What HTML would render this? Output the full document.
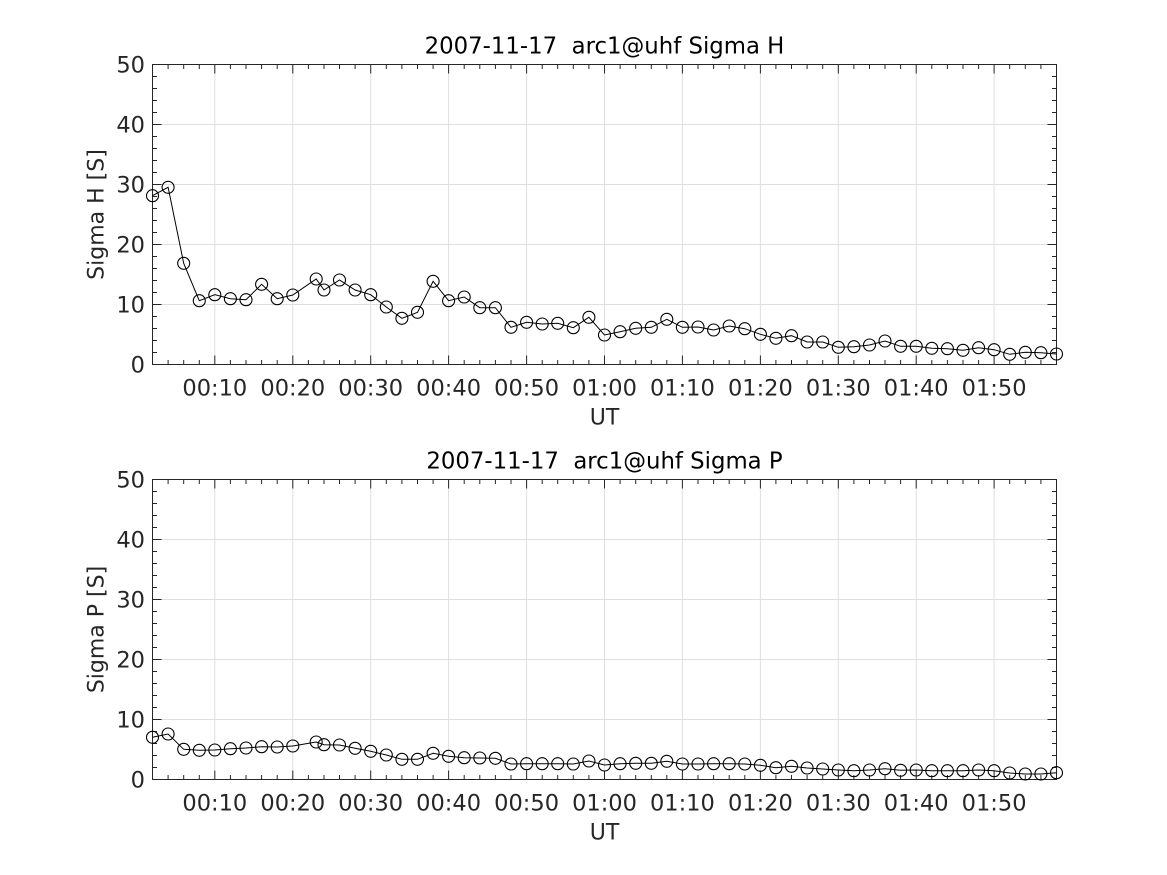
<!DOCTYPE html>
<html>
<head>
<meta charset="utf-8">
<style>
html,body{margin:0;padding:0;background:#fff;}
svg{display:block;}
text{font-family:"DejaVu Sans","Liberation Sans",sans-serif;}
</style>
</head>
<body>
<svg width="1167" height="875" viewBox="0 0 1167 875" xmlns="http://www.w3.org/2000/svg">
<defs>
<marker id="m" markerUnits="userSpaceOnUse" markerWidth="16" markerHeight="16" refX="8" refY="8" viewBox="0 0 16 16">
<circle cx="8" cy="8" r="6" fill="none" stroke="#000" stroke-width="1.1"/>
</marker>
</defs>
<rect width="1167" height="875" fill="#fff"/>

<!-- ============ AXES 1 ============ -->
<g id="ax1">
<path fill="none" stroke="#dfdfdf" stroke-width="1" d="M214.8 64.5V364.5M292.8 64.5V364.5M370.7 64.5V364.5M448.6 64.5V364.5M526.6 64.5V364.5M604.5 64.5V364.5M682.4 64.5V364.5M760.4 64.5V364.5M838.3 64.5V364.5M916.2 64.5V364.5M994.1 64.5V364.5M152.5 124.5H1056.5M152.5 184.5H1056.5M152.5 244.5H1056.5M152.5 304.5H1056.5"/>
<path fill="none" stroke="#262626" stroke-width="1" d="
M168.1 364.5V360M168.1 64.5V69M183.7 364.5V360M183.7 64.5V69M199.3 364.5V360M199.3 64.5V69
M230.4 364.5V360M230.4 64.5V69M246 364.5V360M246 64.5V69M261.6 364.5V360M261.6 64.5V69M277.2 364.5V360M277.2 64.5V69
M308.4 364.5V360M308.4 64.5V69M324 364.5V360M324 64.5V69M339.5 364.5V360M339.5 64.5V69M355.1 364.5V360M355.1 64.5V69
M386.3 364.5V360M386.3 64.5V69M401.9 364.5V360M401.9 64.5V69M417.5 364.5V360M417.5 64.5V69M433.1 364.5V360M433.1 64.5V69
M464.2 364.5V360M464.2 64.5V69M479.8 364.5V360M479.8 64.5V69M495.4 364.5V360M495.4 64.5V69M511 364.5V360M511 64.5V69
M542.2 364.5V360M542.2 64.5V69M557.7 364.5V360M557.7 64.5V69M573.3 364.5V360M573.3 64.5V69M588.9 364.5V360M588.9 64.5V69
M620.1 364.5V360M620.1 64.5V69M635.7 364.5V360M635.7 64.5V69M651.3 364.5V360M651.3 64.5V69M666.8 364.5V360M666.8 64.5V69
M698 364.5V360M698 64.5V69M713.6 364.5V360M713.6 64.5V69M729.2 364.5V360M729.2 64.5V69M744.8 364.5V360M744.8 64.5V69
M775.9 364.5V360M775.9 64.5V69M791.5 364.5V360M791.5 64.5V69M807.1 364.5V360M807.1 64.5V69M822.7 364.5V360M822.7 64.5V69
M853.9 364.5V360M853.9 64.5V69M869.5 364.5V360M869.5 64.5V69M885 364.5V360M885 64.5V69M900.6 364.5V360M900.6 64.5V69
M931.8 364.5V360M931.8 64.5V69M947.4 364.5V360M947.4 64.5V69M963 364.5V360M963 64.5V69M978.6 364.5V360M978.6 64.5V69
M1009.7 364.5V360M1009.7 64.5V69M1025.3 364.5V360M1025.3 64.5V69M1040.9 364.5V360M1040.9 64.5V69
M214.8 364.5V355.5M214.8 64.5V73.5M292.8 364.5V355.5M292.8 64.5V73.5M370.7 364.5V355.5M370.7 64.5V73.5
M448.6 364.5V355.5M448.6 64.5V73.5M526.6 364.5V355.5M526.6 64.5V73.5M604.5 364.5V355.5M604.5 64.5V73.5
M682.4 364.5V355.5M682.4 64.5V73.5M760.4 364.5V355.5M760.4 64.5V73.5M838.3 364.5V355.5M838.3 64.5V73.5
M916.2 364.5V355.5M916.2 64.5V73.5M994.1 364.5V355.5M994.1 64.5V73.5
M152.5 352.5H157M1056.5 352.5H1052M152.5 340.5H157M1056.5 340.5H1052M152.5 328.5H157M1056.5 328.5H1052M152.5 316.5H157M1056.5 316.5H1052
M152.5 292.5H157M1056.5 292.5H1052M152.5 280.5H157M1056.5 280.5H1052M152.5 268.5H157M1056.5 268.5H1052M152.5 256.5H157M1056.5 256.5H1052
M152.5 232.5H157M1056.5 232.5H1052M152.5 220.5H157M1056.5 220.5H1052M152.5 208.5H157M1056.5 208.5H1052M152.5 196.5H157M1056.5 196.5H1052
M152.5 172.5H157M1056.5 172.5H1052M152.5 160.5H157M1056.5 160.5H1052M152.5 148.5H157M1056.5 148.5H1052M152.5 136.5H157M1056.5 136.5H1052
M152.5 112.5H157M1056.5 112.5H1052M152.5 100.5H157M1056.5 100.5H1052M152.5 88.5H157M1056.5 88.5H1052M152.5 76.5H157M1056.5 76.5H1052
M152.5 304.5H161.5M1056.5 304.5H1047.5M152.5 244.5H161.5M1056.5 244.5H1047.5M152.5 184.5H161.5M1056.5 184.5H1047.5M152.5 124.5H161.5M1056.5 124.5H1047.5
"/>
<rect x="152.5" y="64.5" width="904" height="300" fill="none" stroke="#262626" stroke-width="1"/>
<g fill="#262626" font-size="22.5" text-anchor="end">
<text x="145" y="372.5">0</text>
<text x="145" y="312.5">10</text>
<text x="145" y="252.5">20</text>
<text x="145" y="192.5">30</text>
<text x="145" y="132.5">40</text>
<text x="145" y="72.5">50</text>
</g>
<g fill="#262626" font-size="22.5" text-anchor="middle">
<text x="214.8" y="395.5">00:10</text>
<text x="292.8" y="395.5">00:20</text>
<text x="370.7" y="395.5">00:30</text>
<text x="448.6" y="395.5">00:40</text>
<text x="526.6" y="395.5">00:50</text>
<text x="604.5" y="395.5">01:00</text>
<text x="682.4" y="395.5">01:10</text>
<text x="760.4" y="395.5">01:20</text>
<text x="838.3" y="395.5">01:30</text>
<text x="916.2" y="395.5">01:40</text>
<text x="994.1" y="395.5">01:50</text>
<text x="604.5" y="424.5" font-size="22">UT</text>
</g>
</g>
<text x="604.5" y="53.5" font-size="22.8" text-anchor="middle" fill="#000">2007-11-17&#160; arc1@uhf Sigma H</text>
<text transform="translate(103.5,214.5) rotate(-90)" font-size="22" text-anchor="middle" fill="#262626">Sigma H [S]</text>

<polyline fill="none" stroke="#000" stroke-width="1" marker-start="url(#m)" marker-mid="url(#m)" marker-end="url(#m)" points="152.5,195.7 168.1,187.3 183.7,263.3 199.3,300.7 214.8,294.7 230.4,298.7 246,299.7 261.6,284.3 277.2,298.7 292.8,295 316.2,279 324,290 339.5,280 355.1,290 370.7,294.7 386.3,307 401.9,318.3 417.5,312.3 433.1,281.3 448.6,300.7 464.2,297 479.8,307.7 495.4,307.7 511,327.3 526.6,322.3 542.2,324 557.7,323.3 573.3,327.7 588.9,317.3 604.5,335 620.1,331.7 635.7,328.3 651.3,327.3 666.8,319.3 682.4,327.3 698,327 713.6,330 729.2,326 744.8,328.7 760.4,334.3 775.9,338.3 791.5,335.7 807.1,342 822.7,342 838.3,347.3 853.9,346.7 869.5,345 885,341 900.6,346.3 916.2,346.3 931.8,348.3 947.4,348.7 963,350.3 978.6,347.7 994.1,349.7 1009.7,354.3 1025.3,352.3 1040.9,352.7 1056.5,354"/>

<!-- ============ AXES 2 ============ -->
<g transform="translate(0,415)">
<path fill="none" stroke="#dfdfdf" stroke-width="1" d="M214.8 64.5V364.5M292.8 64.5V364.5M370.7 64.5V364.5M448.6 64.5V364.5M526.6 64.5V364.5M604.5 64.5V364.5M682.4 64.5V364.5M760.4 64.5V364.5M838.3 64.5V364.5M916.2 64.5V364.5M994.1 64.5V364.5M152.5 124.5H1056.5M152.5 184.5H1056.5M152.5 244.5H1056.5M152.5 304.5H1056.5"/>
<path fill="none" stroke="#262626" stroke-width="1" d="
M168.1 364.5V360M168.1 64.5V69M183.7 364.5V360M183.7 64.5V69M199.3 364.5V360M199.3 64.5V69
M230.4 364.5V360M230.4 64.5V69M246 364.5V360M246 64.5V69M261.6 364.5V360M261.6 64.5V69M277.2 364.5V360M277.2 64.5V69
M308.4 364.5V360M308.4 64.5V69M324 364.5V360M324 64.5V69M339.5 364.5V360M339.5 64.5V69M355.1 364.5V360M355.1 64.5V69
M386.3 364.5V360M386.3 64.5V69M401.9 364.5V360M401.9 64.5V69M417.5 364.5V360M417.5 64.5V69M433.1 364.5V360M433.1 64.5V69
M464.2 364.5V360M464.2 64.5V69M479.8 364.5V360M479.8 64.5V69M495.4 364.5V360M495.4 64.5V69M511 364.5V360M511 64.5V69
M542.2 364.5V360M542.2 64.5V69M557.7 364.5V360M557.7 64.5V69M573.3 364.5V360M573.3 64.5V69M588.9 364.5V360M588.9 64.5V69
M620.1 364.5V360M620.1 64.5V69M635.7 364.5V360M635.7 64.5V69M651.3 364.5V360M651.3 64.5V69M666.8 364.5V360M666.8 64.5V69
M698 364.5V360M698 64.5V69M713.6 364.5V360M713.6 64.5V69M729.2 364.5V360M729.2 64.5V69M744.8 364.5V360M744.8 64.5V69
M775.9 364.5V360M775.9 64.5V69M791.5 364.5V360M791.5 64.5V69M807.1 364.5V360M807.1 64.5V69M822.7 364.5V360M822.7 64.5V69
M853.9 364.5V360M853.9 64.5V69M869.5 364.5V360M869.5 64.5V69M885 364.5V360M885 64.5V69M900.6 364.5V360M900.6 64.5V69
M931.8 364.5V360M931.8 64.5V69M947.4 364.5V360M947.4 64.5V69M963 364.5V360M963 64.5V69M978.6 364.5V360M978.6 64.5V69
M1009.7 364.5V360M1009.7 64.5V69M1025.3 364.5V360M1025.3 64.5V69M1040.9 364.5V360M1040.9 64.5V69
M214.8 364.5V355.5M214.8 64.5V73.5M292.8 364.5V355.5M292.8 64.5V73.5M370.7 364.5V355.5M370.7 64.5V73.5
M448.6 364.5V355.5M448.6 64.5V73.5M526.6 364.5V355.5M526.6 64.5V73.5M604.5 364.5V355.5M604.5 64.5V73.5
M682.4 364.5V355.5M682.4 64.5V73.5M760.4 364.5V355.5M760.4 64.5V73.5M838.3 364.5V355.5M838.3 64.5V73.5
M916.2 364.5V355.5M916.2 64.5V73.5M994.1 364.5V355.5M994.1 64.5V73.5
M152.5 352.5H157M1056.5 352.5H1052M152.5 340.5H157M1056.5 340.5H1052M152.5 328.5H157M1056.5 328.5H1052M152.5 316.5H157M1056.5 316.5H1052
M152.5 292.5H157M1056.5 292.5H1052M152.5 280.5H157M1056.5 280.5H1052M152.5 268.5H157M1056.5 268.5H1052M152.5 256.5H157M1056.5 256.5H1052
M152.5 232.5H157M1056.5 232.5H1052M152.5 220.5H157M1056.5 220.5H1052M152.5 208.5H157M1056.5 208.5H1052M152.5 196.5H157M1056.5 196.5H1052
M152.5 172.5H157M1056.5 172.5H1052M152.5 160.5H157M1056.5 160.5H1052M152.5 148.5H157M1056.5 148.5H1052M152.5 136.5H157M1056.5 136.5H1052
M152.5 112.5H157M1056.5 112.5H1052M152.5 100.5H157M1056.5 100.5H1052M152.5 88.5H157M1056.5 88.5H1052M152.5 76.5H157M1056.5 76.5H1052
M152.5 304.5H161.5M1056.5 304.5H1047.5M152.5 244.5H161.5M1056.5 244.5H1047.5M152.5 184.5H161.5M1056.5 184.5H1047.5M152.5 124.5H161.5M1056.5 124.5H1047.5
"/>
<rect x="152.5" y="64.5" width="904" height="300" fill="none" stroke="#262626" stroke-width="1"/>
<g fill="#262626" font-size="22.5" text-anchor="end">
<text x="145" y="372.5">0</text>
<text x="145" y="312.5">10</text>
<text x="145" y="252.5">20</text>
<text x="145" y="192.5">30</text>
<text x="145" y="132.5">40</text>
<text x="145" y="72.5">50</text>
</g>
<g fill="#262626" font-size="22.5" text-anchor="middle">
<text x="214.8" y="395.5">00:10</text>
<text x="292.8" y="395.5">00:20</text>
<text x="370.7" y="395.5">00:30</text>
<text x="448.6" y="395.5">00:40</text>
<text x="526.6" y="395.5">00:50</text>
<text x="604.5" y="395.5">01:00</text>
<text x="682.4" y="395.5">01:10</text>
<text x="760.4" y="395.5">01:20</text>
<text x="838.3" y="395.5">01:30</text>
<text x="916.2" y="395.5">01:40</text>
<text x="994.1" y="395.5">01:50</text>
<text x="604.5" y="424.5" font-size="22">UT</text>
</g>
<text x="604.5" y="53.5" font-size="22.8" text-anchor="middle" fill="#000">2007-11-17&#160; arc1@uhf Sigma P</text>
<text transform="translate(103.5,214.5) rotate(-90)" font-size="22" text-anchor="middle" fill="#262626">Sigma P [S]</text>
</g>

<polyline fill="none" stroke="#000" stroke-width="1" marker-start="url(#m)" marker-mid="url(#m)" marker-end="url(#m)" points="152.5,737.3 168.1,734 183.7,749.3 199.3,750.3 214.8,750 230.4,748.7 246,748 261.6,746.7 277.2,747 292.8,746 316.2,742 324,744.7 339.5,745 355.1,748.3 370.7,751.3 386.3,755 401.9,759.3 417.5,759.3 433.1,753.3 448.6,756.3 464.2,757.7 479.8,758 495.4,758.3 511,764 526.6,763.7 542.2,763.7 557.7,763.7 573.3,764 588.9,761 604.5,765 620.1,763.7 635.7,763.3 651.3,763.3 666.8,761.3 682.4,764 698,764 713.6,763.7 729.2,763.7 744.8,764 760.4,765.3 775.9,767.7 791.5,766.3 807.1,768 822.7,769 838.3,770 853.9,770.7 869.5,770 885,768.7 900.6,770.3 916.2,770 931.8,770.7 947.4,770.7 963,770.7 978.6,770 994.1,770.7 1009.7,773 1025.3,774 1040.9,774 1056.5,772.7"/>
</svg>
</body>
</html>
